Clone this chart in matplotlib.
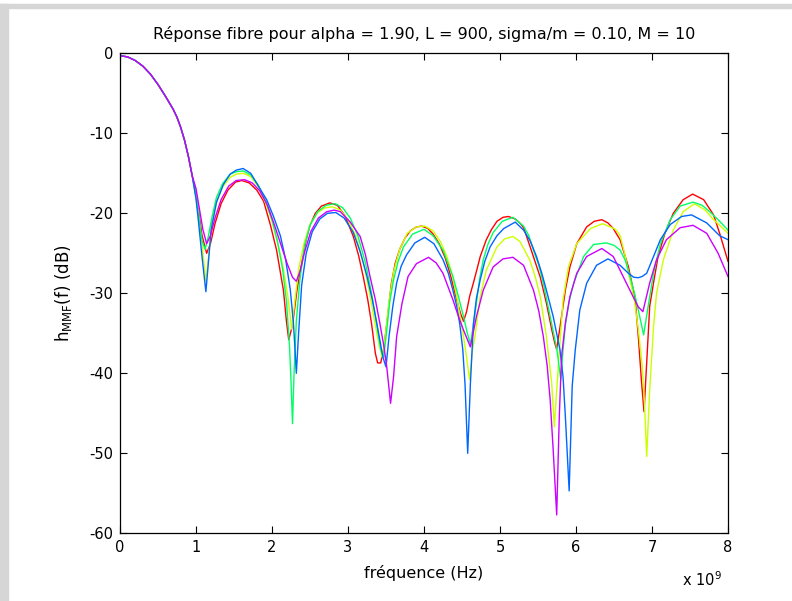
import numpy as np
import matplotlib
matplotlib.use('Agg')
import matplotlib.pyplot as plt
from matplotlib.patches import Rectangle

plt.rcParams['font.family'] = ['DejaVu Sans']
plt.rcParams['mathtext.fontset'] = 'dejavusans'
plt.rcParams['axes.unicode_minus'] = False

# frequency in units of 1e9 Hz, response in dB
main_lobe = [(0.0, -0.3), (0.1, -0.45), (0.2, -0.9), (0.3, -1.6), (0.4, -2.6), (0.5, -3.9),
             (0.6, -5.4), (0.7, -7.0), (0.75, -8.0), (0.8, -9.3), (0.85, -10.9), (0.9, -12.9),
             (0.95, -15.3)]

red_pts = [(1.0, -17.6), (1.03, -19.5), (1.08, -22.8), (1.14, -25.0), (1.19, -23.8), (1.25, -21.3),
           (1.33, -18.8), (1.42, -17.1), (1.52, -16.1), (1.60, -15.9), (1.70, -16.2), (1.80, -17.1),
           (1.89, -18.5), (1.98, -21.5), (2.06, -24.6), (2.15, -29.6), (2.19, -33.5), (2.22, -35.8),
           (2.27, -34.0), (2.33, -29.5), (2.39, -26.3), (2.45, -23.3), (2.50, -21.5), (2.57, -20.0),
           (2.65, -19.1), (2.76, -18.7), (2.86, -19.0), (2.96, -20.3), (3.07, -22.9), (3.14, -25.3),
           (3.20, -27.9), (3.26, -30.8), (3.31, -33.8), (3.36, -37.5), (3.39, -38.7), (3.43, -38.7),
           (3.47, -37.0), (3.52, -33.0), (3.57, -28.8), (3.62, -26.3), (3.68, -24.5), (3.75, -23.1),
           (3.82, -22.2), (3.90, -21.7), (3.97, -21.6), (4.05, -21.9), (4.12, -22.6), (4.20, -23.8),
           (4.28, -25.6), (4.35, -27.8), (4.43, -30.8), (4.48, -32.5), (4.52, -33.5), (4.56, -32.3),
           (4.60, -30.4), (4.65, -28.7), (4.70, -26.9), (4.74, -25.4), (4.82, -23.3), (4.89, -22.0),
           (4.96, -21.0), (5.04, -20.5), (5.11, -20.4), (5.20, -20.7), (5.26, -21.2), (5.31, -21.8),
           (5.39, -24.0), (5.46, -26.0), (5.53, -28.0), (5.61, -31.2), (5.68, -34.5), (5.72, -36.2),
           (5.745, -37.0), (5.79, -34.2), (5.86, -29.6), (5.92, -26.7), (6.01, -23.8), (6.14, -21.7),
           (6.24, -21.0), (6.34, -20.8), (6.42, -21.2), (6.49, -21.9), (6.58, -23.3), (6.69, -26.7),
           (6.78, -30.8), (6.82, -35.4), (6.86, -40.8), (6.895, -44.8), (6.93, -38.7), (6.97, -31.6),
           (7.02, -28.7), (7.08, -25.4), (7.17, -22.5), (7.28, -20.0), (7.41, -18.3), (7.535, -17.6),
           (7.68, -18.3), (7.81, -20.2), (7.89, -22.5), (8.00, -26.0)]

yellow_pts = [(1.0, -17.8), (1.03, -19.8), (1.08, -24.0), (1.13, -28.5), (1.17, -25.0), (1.21, -21.2),
              (1.27, -18.6), (1.35, -16.7), (1.45, -15.5), (1.53, -15.1), (1.62, -15.0), (1.72, -15.4),
              (1.82, -16.7), (1.92, -18.8), (2.00, -21.0), (2.08, -23.9), (2.15, -27.0), (2.21, -30.5),
              (2.26, -34.5), (2.30, -31.0), (2.35, -27.0), (2.42, -23.8), (2.50, -21.4), (2.60, -19.9),
              (2.70, -19.3), (2.80, -19.2), (2.90, -19.6), (3.00, -20.8), (3.10, -22.8), (3.20, -26.0),
              (3.28, -29.8), (3.35, -33.5), (3.41, -36.5), (3.45, -38.0), (3.49, -35.5), (3.54, -31.0),
              (3.60, -27.3), (3.68, -24.5), (3.78, -22.5), (3.90, -21.7), (4.01, -21.6), (4.12, -22.2),
              (4.22, -23.6), (4.30, -25.4), (4.37, -27.6), (4.43, -30.4), (4.52, -35.4), (4.56, -38.0),
              (4.60, -40.8), (4.64, -37.0), (4.67, -35.4), (4.74, -30.4), (4.82, -27.1), (4.96, -24.2),
              (5.06, -23.2), (5.17, -22.9), (5.26, -23.5), (5.39, -25.8), (5.46, -27.8), (5.53, -30.4),
              (5.61, -35.4), (5.68, -41.2), (5.715, -46.7), (5.77, -38.7), (5.83, -30.8), (5.90, -26.7),
              (6.01, -23.8), (6.19, -21.9), (6.35, -21.3), (6.45, -21.7), (6.52, -22.0), (6.58, -22.8),
              (6.64, -25.0), (6.71, -28.3), (6.77, -31.0), (6.82, -34.5), (6.87, -39.0), (6.90, -43.5),
              (6.93, -50.4), (6.97, -42.0), (7.02, -34.2), (7.06, -30.0), (7.15, -25.8), (7.28, -22.1),
              (7.41, -19.8), (7.56, -18.8), (7.70, -19.6), (7.80, -20.7), (7.90, -21.6), (8.00, -22.5)]

green_pts = [(1.0, -17.9), (1.03, -20.0), (1.08, -23.5), (1.12, -24.5), (1.16, -23.0), (1.21, -20.5),
             (1.27, -18.0), (1.35, -16.3), (1.45, -15.1), (1.53, -14.8), (1.62, -14.7), (1.72, -15.2),
             (1.82, -16.5), (1.92, -18.5), (2.00, -20.8), (2.07, -23.4), (2.14, -27.0), (2.19, -31.0),
             (2.23, -36.5), (2.25, -41.0), (2.27, -46.3), (2.29, -40.0), (2.32, -33.5), (2.37, -28.0),
             (2.43, -24.0), (2.50, -21.5), (2.60, -19.8), (2.71, -19.0), (2.83, -18.8), (2.93, -19.3),
             (3.03, -20.6), (3.13, -22.8), (3.23, -26.2), (3.31, -30.0), (3.38, -34.0), (3.43, -37.0),
             (3.47, -38.0), (3.51, -34.6), (3.55, -31.0), (3.60, -28.3), (3.66, -26.0), (3.73, -24.2),
             (3.85, -22.6), (4.00, -22.0), (4.12, -22.8), (4.25, -24.6), (4.38, -27.9), (4.45, -30.3),
             (4.52, -32.9), (4.57, -35.0), (4.61, -36.3), (4.65, -34.0), (4.69, -31.2), (4.73, -28.3),
             (4.78, -25.8), (4.84, -23.9), (4.91, -22.4), (5.03, -21.0), (5.17, -20.5), (5.31, -21.6),
             (5.38, -22.8), (5.44, -24.6), (5.51, -26.5), (5.57, -28.7), (5.66, -32.9), (5.75, -37.1),
             (5.80, -40.8), (5.83, -37.0), (5.86, -34.0), (5.91, -31.0), (5.97, -28.7), (6.10, -25.4),
             (6.23, -23.9), (6.40, -23.7), (6.50, -24.0), (6.58, -24.6), (6.65, -25.9), (6.71, -27.9),
             (6.77, -30.0), (6.82, -32.1), (6.89, -35.2), (6.95, -31.6), (7.02, -27.5), (7.11, -23.8),
             (7.24, -20.8), (7.37, -19.1), (7.54, -18.6), (7.66, -19.0), (7.76, -19.8), (7.88, -20.9),
             (8.00, -22.1)]

blue_pts = [(1.0, -18.2), (1.03, -20.8), (1.08, -25.5), (1.13, -29.8), (1.16, -26.5), (1.20, -22.0),
            (1.27, -18.6), (1.36, -16.4), (1.45, -15.1), (1.53, -14.6), (1.62, -14.4), (1.72, -15.0),
            (1.84, -16.9), (1.93, -18.3), (2.02, -20.4), (2.11, -22.8), (2.18, -25.8), (2.24, -29.5),
            (2.28, -33.5), (2.30, -36.5), (2.32, -40.0), (2.35, -35.0), (2.39, -29.0), (2.45, -25.0),
            (2.53, -22.3), (2.63, -20.7), (2.73, -20.0), (2.84, -19.9), (2.95, -20.6), (3.07, -22.4),
            (3.16, -24.8), (3.25, -27.9), (3.32, -30.8), (3.38, -33.8), (3.46, -38.0), (3.50, -39.2),
            (3.54, -35.4), (3.59, -31.6), (3.64, -28.7), (3.70, -26.6), (3.77, -25.2), (3.88, -23.7),
            (4.01, -23.0), (4.13, -23.8), (4.25, -25.8), (4.32, -27.5), (4.38, -29.6), (4.43, -31.6),
            (4.47, -33.8), (4.51, -37.0), (4.54, -41.4), (4.575, -50.0), (4.61, -41.4), (4.65, -33.8),
            (4.69, -30.6), (4.74, -28.3), (4.80, -26.0), (4.87, -24.2), (4.96, -22.8), (5.05, -21.9),
            (5.20, -21.1), (5.31, -22.1), (5.40, -23.5), (5.48, -25.4), (5.55, -27.5), (5.61, -29.6),
            (5.70, -32.9), (5.79, -37.1), (5.83, -40.5), (5.86, -45.4), (5.91, -54.7), (5.95, -41.6),
            (5.99, -37.1), (6.05, -32.1), (6.14, -28.75), (6.27, -26.5), (6.42, -25.7), (6.58, -26.5),
            (6.69, -27.5), (6.76, -28.0), (6.82, -28.05), (6.87, -27.9), (6.93, -27.5), (7.02, -25.4),
            (7.11, -23.3), (7.24, -21.4), (7.39, -20.4), (7.52, -20.2), (7.72, -21.2), (7.89, -22.8),
            (8.00, -23.3)]

magenta_pts = [(1.0, -16.9), (1.03, -18.6), (1.09, -22.0), (1.14, -23.8), (1.19, -22.8), (1.25, -20.6),
               (1.33, -18.3), (1.43, -16.6), (1.53, -15.9), (1.64, -15.8), (1.74, -16.2), (1.84, -17.2),
               (1.94, -19.0), (2.03, -21.4), (2.12, -24.0), (2.20, -26.3), (2.27, -28.0), (2.32, -28.5),
               (2.37, -27.2), (2.43, -24.8), (2.51, -22.3), (2.61, -20.6), (2.72, -19.8), (2.82, -19.6),
               (2.90, -19.8), (3.03, -21.1), (3.16, -22.9), (3.23, -25.2), (3.29, -27.9), (3.36, -30.8),
               (3.42, -33.8), (3.47, -36.5), (3.51, -39.2), (3.56, -43.75), (3.60, -40.4), (3.64, -35.4),
               (3.71, -31.3), (3.79, -27.9), (3.90, -26.3), (4.06, -25.5), (4.16, -26.2), (4.25, -27.5),
               (4.38, -30.8), (4.45, -32.8), (4.52, -34.6), (4.61, -36.7), (4.69, -32.9), (4.78, -29.6),
               (4.91, -26.7), (5.04, -25.7), (5.17, -25.5), (5.31, -26.5), (5.44, -29.6), (5.51, -32.2),
               (5.57, -35.4), (5.62, -39.0), (5.66, -43.3), (5.70, -49.6), (5.746, -57.7), (5.78, -45.4),
               (5.81, -37.9), (5.86, -33.7), (5.92, -30.4), (6.01, -27.5), (6.14, -25.4), (6.34, -24.4),
               (6.49, -25.4), (6.62, -27.9), (6.75, -30.4), (6.82, -31.7), (6.88, -32.3), (6.97, -28.7),
               (7.06, -25.8), (7.19, -23.3), (7.37, -21.8), (7.54, -21.5), (7.72, -22.5), (7.87, -25.0),
               (8.00, -27.9)]

curves = [(red_pts, '#ff0000'), (yellow_pts, '#ccff00'), (green_pts, '#00ff66'),
          (blue_pts, '#0066ff'), (magenta_pts, '#cc00ff')]

fig = plt.figure(figsize=(7.92, 6.01), dpi=100)
# grey frame of the screenshot
fig.patches.append(Rectangle((0, 1 - 7.5 / 601), 1, 4 / 601, transform=fig.transFigure,
                             color='#d6d6d6', zorder=0))
fig.patches.append(Rectangle((0, 0), 7.5 / 792, 1 - 3.5 / 601, transform=fig.transFigure,
                             color='#d6d6d6', zorder=0))

ax = fig.add_axes([120 / 792, 67.7 / 601, 608 / 792, 480 / 601])
for pts, c in curves:
    arr = np.array(main_lobe + pts)
    ax.plot(arr[:, 0], arr[:, 1], color=c, lw=1.0)

ax.set_xlim(0, 8)
ax.set_ylim(-60, 0)
ax.set_xticks(range(0, 9))
ax.set_yticks(range(-60, 1, 10))
ax.tick_params(direction='in', top=True, right=True, length=5, labelsize=10.5, pad=5)
for s in ax.spines.values():
    s.set_linewidth(0.9)

ax.set_title('Réponse fibre pour alpha = 1.90, L = 900, sigma/m = 0.10, M = 10', fontsize=11.5, pad=10)
ax.set_xlabel('fréquence (Hz)', fontsize=11.5, labelpad=7)
ax.set_ylabel(r'h$_{\mathrm{MMF}}$(f) (dB)', fontsize=12, labelpad=11)
fig.text(0.912, 0.02, r'x 10$^{9}$', fontsize=10.5, ha='right', va='bottom')

plt.savefig('out.png', dpi=100)
